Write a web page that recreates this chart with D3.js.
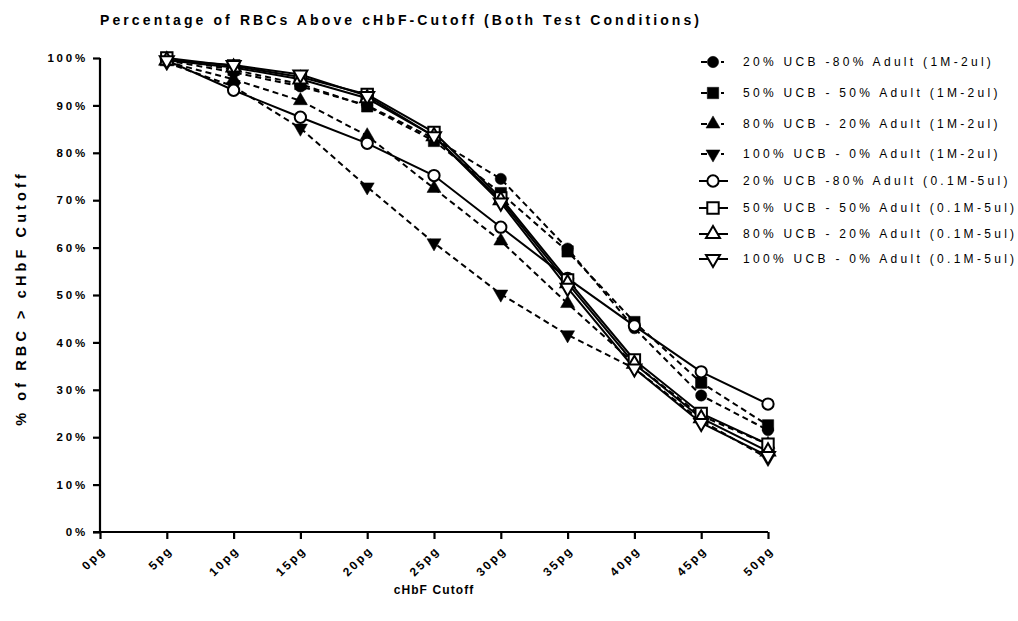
<!DOCTYPE html>
<html>
<head>
<meta charset="utf-8">
<script src="https://cdn.jsdelivr.net/npm/d3@7"></script>
<style>
  html, body { margin: 0; padding: 0; background: #fff; }
  svg { display: block; font-family: "Liberation Sans", Arial, sans-serif; }
</style>
</head>
<body>
<svg id="chart" width="1018" height="621"></svg>
<script>
// cHbF cutoff values (pg) and tick labels
const cutoffs = [5, 10, 15, 20, 25, 30, 35, 40, 45, 50];
const xTicks = [0, 5, 10, 15, 20, 25, 30, 35, 40, 45, 50];
const xTickLabels = ["0pg", "5pg", "10pg", "15pg", "20pg", "25pg", "30pg", "35pg", "40pg", "45pg", "50pg"];
const yTicks = [0, 10, 20, 30, 40, 50, 60, 70, 80, 90, 100];
const yTickLabels = ["0%", "10%", "20%", "30%", "40%", "50%", "60%", "70%", "80%", "90%", "100%"];

// Percentage of RBCs above the cutoff, one array per mixture
const ucb20_1M  = [99.5, 97.0, 94.0, 90.0, 83.0, 74.5, 59.8, 43.0, 28.8, 21.5];
const ucb50_1M  = [100.0, 97.5, 94.5, 89.8, 82.5, 71.5, 59.2, 44.3, 31.5, 22.5];
const ucb80_1M  = [99.2, 95.5, 91.0, 83.6, 72.5, 61.4, 48.2, 35.5, 24.5, 18.5];
const ucb100_1M = [99.0, 94.0, 85.2, 72.8, 61.0, 50.2, 41.6, 34.5, 23.5, 15.5];
const ucb20_01M  = [99.5, 93.2, 87.5, 82.0, 75.2, 64.3, 53.5, 43.5, 33.8, 27.0];
const ucb50_01M  = [100.0, 98.3, 96.0, 92.3, 84.3, 70.5, 53.2, 36.3, 25.0, 18.5];
const ucb80_01M  = [99.5, 98.0, 95.5, 91.5, 83.5, 70.0, 52.5, 35.5, 24.0, 17.0];
const ucb100_01M = [99.5, 98.5, 96.5, 92.0, 83.5, 69.5, 51.5, 34.5, 23.0, 16.0];

const seriesNames = [
  "20% UCB -80% Adult (1M-2ul)",
  "50% UCB - 50% Adult (1M-2ul)",
  "80% UCB - 20% Adult (1M-2ul)",
  "100% UCB - 0% Adult (1M-2ul)",
  "20% UCB -80% Adult (0.1M-5ul)",
  "50% UCB - 50% Adult (0.1M-5ul)",
  "80% UCB - 20% Adult (0.1M-5ul)",
  "100% UCB - 0% Adult (0.1M-5ul)"
];
const seriesValues = [ucb20_1M, ucb50_1M, ucb80_1M, ucb100_1M, ucb20_01M, ucb50_01M, ucb80_01M, ucb100_01M];
const seriesShapes = ["circle", "square", "up", "down", "circle", "square", "up", "down"];
const seriesFilled = [true, true, true, true, false, false, false, false];
const seriesDashed = [true, true, true, true, false, false, false, false];

const series = seriesNames.map((name, i) => ({
  name, shape: seriesShapes[i], filled: seriesFilled[i], dashed: seriesDashed[i],
  points: cutoffs.map((c, j) => ({ x: c, y: seriesValues[i][j] }))
}));

const svg = d3.select("#chart");
const x = d3.scaleLinear().domain([0, 50]).range([100, 768]);
const y = d3.scaleLinear().domain([0, 100]).range([532, 58]);

// Title
svg.append("text")
  .attr("x", 100).attr("y", 25)
  .attr("font-size", 14).attr("font-weight", "bold")
  .attr("letter-spacing", 3.1)
  .text("Percentage of RBCs Above cHbF-Cutoff (Both Test Conditions)");

// Y axis
const yAxis = svg.append("g").attr("transform", `translate(${x(0)},0)`)
  .call(d3.axisLeft(y).tickValues(yTicks).tickFormat((d, i) => yTickLabels[i]).tickSize(7).tickPadding(5));
yAxis.select(".domain").attr("stroke-width", 2.2).attr("d", `M0,${y(0)}V${y(100)}`);
yAxis.selectAll(".tick line").attr("stroke-width", 2.2);
yAxis.selectAll(".tick text")
  .attr("font-size", 11.5).attr("font-weight", "bold").attr("letter-spacing", 2.8)
  .attr("font-family", "Liberation Sans, Arial, sans-serif").attr("fill", "#000");

// X axis
const xAxis = svg.append("g").attr("transform", `translate(0,${y(0)})`)
  .call(d3.axisBottom(x).tickValues(xTicks).tickFormat((d, i) => xTickLabels[i]).tickSize(7));
xAxis.select(".domain").attr("stroke-width", 2.2).attr("d", `M${x(0) - 7},0H${x(50)}`);
xAxis.selectAll(".tick line").attr("stroke-width", 2.2);
xAxis.selectAll(".tick text")
  .attr("font-size", 12).attr("font-weight", "bold").attr("letter-spacing", 2.2)
  .attr("font-family", "Liberation Sans, Arial, sans-serif").attr("fill", "#000")
  .attr("text-anchor", "end").attr("dy", null).attr("y", 0)
  .attr("transform", "translate(6,19) rotate(-45)");

// Axis titles
svg.append("text")
  .attr("x", 434).attr("y", 594).attr("text-anchor", "middle")
  .attr("font-size", 12).attr("font-weight", "bold").attr("letter-spacing", 1.1)
  .text("cHbF Cutoff");
svg.append("text")
  .attr("transform", "translate(26,298) rotate(-90)").attr("text-anchor", "middle")
  .attr("font-size", 14.5).attr("font-weight", "bold").attr("letter-spacing", 4.1)
  .text("% of RBC > cHbF Cutoff");

// Marker path generator
function markerPath(shape) {
  if (shape === "circle") return d3.symbol(d3.symbolCircle, 100)();
  if (shape === "square") return d3.symbol(d3.symbolSquare, 130)();
  return d3.symbol(d3.symbolTriangle, 85)();
}
function markerTransform(shape, px, py) {
  return shape === "down" ? `translate(${px},${py}) rotate(180)` : `translate(${px},${py})`;
}

const line = d3.line().x(d => x(d.x)).y(d => y(d.y));

// Lines
const plot = svg.append("g");
series.forEach(s => {
  plot.append("path")
    .datum(s.points)
    .attr("d", line)
    .attr("fill", "none").attr("stroke", "#000")
    .attr("stroke-width", 2)
    .attr("stroke-dasharray", s.dashed ? "6,4" : null);
});
// Markers
series.forEach(s => {
  plot.append("g").selectAll("path")
    .data(s.points).join("path")
    .attr("d", markerPath(s.shape))
    .attr("transform", d => markerTransform(s.shape, x(d.x), y(d.y)))
    .attr("fill", s.filled ? "#000" : "#fff")
    .attr("stroke", "#000").attr("stroke-width", s.filled ? 0.5 : 2);
});

// Legend
const legendRows = [62, 93, 124, 154, 181, 208, 234, 259];
const legend = svg.append("g");
series.forEach((s, i) => {
  const g = legend.append("g").attr("transform", `translate(0,${legendRows[i]})`);
  if (s.dashed) {
    g.append("line").attr("x1", 701).attr("x2", 724).attr("y1", 0).attr("y2", 0)
      .attr("stroke", "#000").attr("stroke-width", 2).attr("stroke-dasharray", "6,4");
  } else {
    g.append("line").attr("x1", 699).attr("x2", 728).attr("y1", 0).attr("y2", 0)
      .attr("stroke", "#000").attr("stroke-width", 2);
  }
  g.append("path")
    .attr("d", markerPath(s.shape))
    .attr("transform", markerTransform(s.shape, 713, 0))
    .attr("fill", s.filled ? "#000" : "#fff")
    .attr("stroke", "#000").attr("stroke-width", s.filled ? 0.5 : 2);
  g.append("text")
    .attr("x", 743).attr("y", 4)
    .attr("font-size", 12).attr("letter-spacing", 3.3)
    .text(s.name);
});
</script>
</body>
</html>
